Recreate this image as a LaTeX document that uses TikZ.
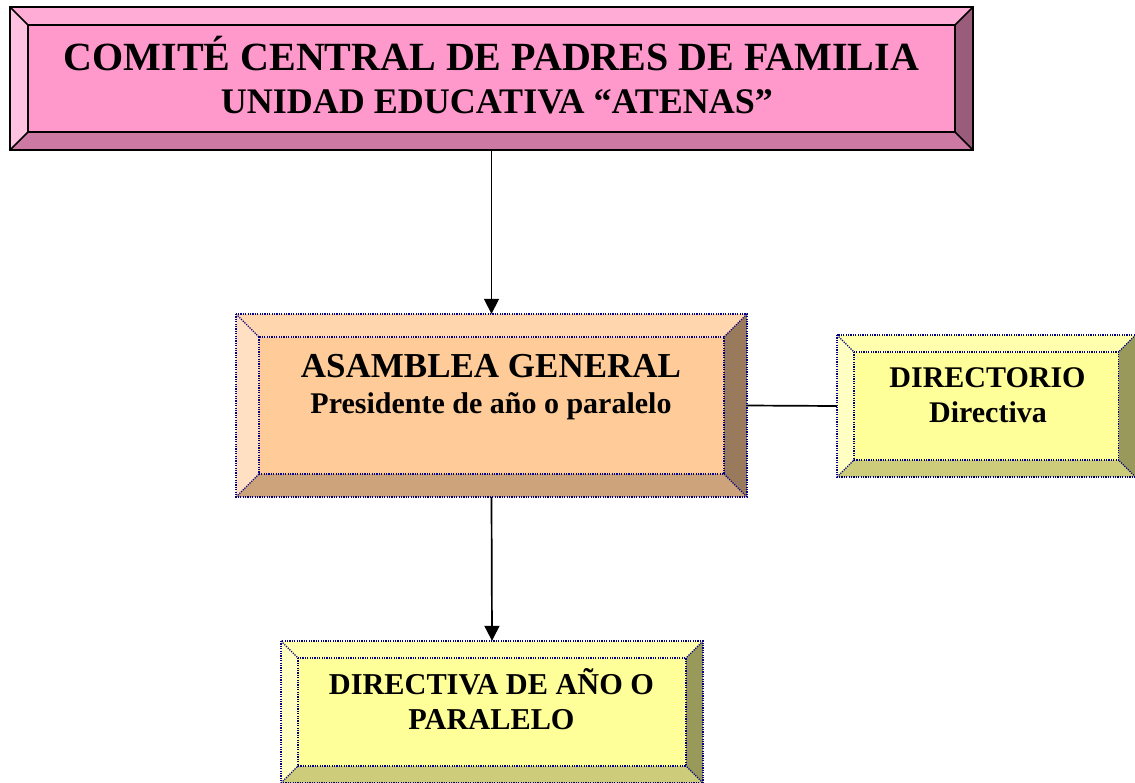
\documentclass[tikz,border=0pt]{standalone}
\usepackage{fontspec}
\setmainfont{Liberation Serif}
\usetikzlibrary{arrows.meta,fit}
\definecolor{pkface}{HTML}{FF99CC}
\definecolor{pktop}{HTML}{FFADD6}
\definecolor{pkleft}{HTML}{FFC2E0}
\definecolor{pkbot}{HTML}{CC7AA3}
\definecolor{pkright}{HTML}{995C7A}
\definecolor{pcface}{HTML}{FFCC99}
\definecolor{pctop}{HTML}{FFD6AD}
\definecolor{pcleft}{HTML}{FFE0C2}
\definecolor{pcbot}{HTML}{CCA37A}
\definecolor{pcright}{HTML}{997A5C}
\definecolor{ywface}{HTML}{FFFF99}
\definecolor{ywtop}{HTML}{FFFFAD}
\definecolor{ywleft}{HTML}{FFFFC2}
\definecolor{ywbot}{HTML}{CCCC7A}
\definecolor{ywright}{HTML}{99995C}
\definecolor{bnavy}{HTML}{000080}
\tikzset{
  solidborder/.style={draw=black, line width=1.6pt},
  dotborder/.style={draw=bnavy, line width=1.2pt, dash pattern=on 1.2pt off 1.2pt},
  conn/.style={draw=black, line width=1.7pt},
  arr/.style={conn, -{Triangle[width=15pt,length=15pt]}},
  lbl/.style={anchor=base, inner sep=0pt, font=\bfseries},
}
% #1 name, #2 x1, #3 y1, #4 x2, #5 y2, #6 bevel, #7 colour prefix, #8 border style
\newcommand\bevbox[8]{%
  \fill[#7face] (#2,#3) rectangle (#4,#5);
  \fill[#7top] (#2,#3) -- (#4,#3) -- (#4-#6,#3+#6) -- (#2+#6,#3+#6) -- cycle;
  \fill[#7left] (#2,#3) -- (#2+#6,#3+#6) -- (#2+#6,#5-#6) -- (#2,#5) -- cycle;
  \fill[#7bot] (#2,#5) -- (#2+#6,#5-#6) -- (#4-#6,#5-#6) -- (#4,#5) -- cycle;
  \fill[#7right] (#4,#3) -- (#4,#5) -- (#4-#6,#5-#6) -- (#4-#6,#3+#6) -- cycle;
  \path[#8] (#2,#3) rectangle (#4,#5);
  \path[#8] (#2+#6,#3+#6) rectangle (#4-#6,#5-#6);
  \path[#8] (#2,#3) -- (#2+#6,#3+#6);
  \path[#8] (#4,#3) -- (#4-#6,#3+#6);
  \path[#8] (#2,#5) -- (#2+#6,#5-#6);
  \path[#8] (#4,#5) -- (#4-#6,#5-#6);
  \node[fit={(#2,#3) (#4,#5)}, inner sep=0pt] (#1) {};
}
\begin{document}
\begin{tikzpicture}[x=1pt,y=-1pt]
\useasboundingbox (0,0) rectangle (1135,782);
\bevbox{comite}{10}{7}{973}{150}{18}{pk}{solidborder}
\bevbox{asamblea}{236}{314}{747}{497}{23}{pc}{dotborder}
\bevbox{directorio}{837}{335}{1135.5}{477}{17}{yw}{dotborder}
\bevbox{directiva}{281}{641}{703}{783}{17}{yw}{dotborder}

\node[lbl, font=\bfseries\fontsize{40}{44}\selectfont] (t1) at (491.5,70) {COMITÉ CENTRAL DE PADRES DE FAMILIA};
\node[lbl, font=\bfseries\fontsize{36}{40}\selectfont] (t2) at (497,113) {UNIDAD EDUCATIVA “ATENAS”};

\node[lbl, font=\bfseries\fontsize{35}{38}\selectfont] (a1) at (491,377) {ASAMBLEA GENERAL};
\node[lbl, font=\bfseries\fontsize{30}{33}\selectfont] (a2) at (491,413) {Presidente de año o paralelo};

\node[lbl, font=\bfseries\fontsize{30}{34}\selectfont] (d1) at (987.5,387) {DIRECTORIO};
\node[lbl, font=\bfseries\fontsize{30}{34}\selectfont] (d2) at (988,422) {Directiva};

\node[lbl, font=\bfseries\fontsize{30.3}{34}\selectfont] (p1) at (491.5,694) {DIRECTIVA DE AÑO O};
\node[lbl, font=\bfseries\fontsize{30.3}{34}\selectfont] (p2) at (491.5,729) {PARALELO};

\draw[arr] (comite.south) -- (asamblea.north);
\draw[arr] (asamblea.south) -- (directiva.north);
\draw[conn] (asamblea.east) -- (directorio.west);
\end{tikzpicture}
\end{document}
